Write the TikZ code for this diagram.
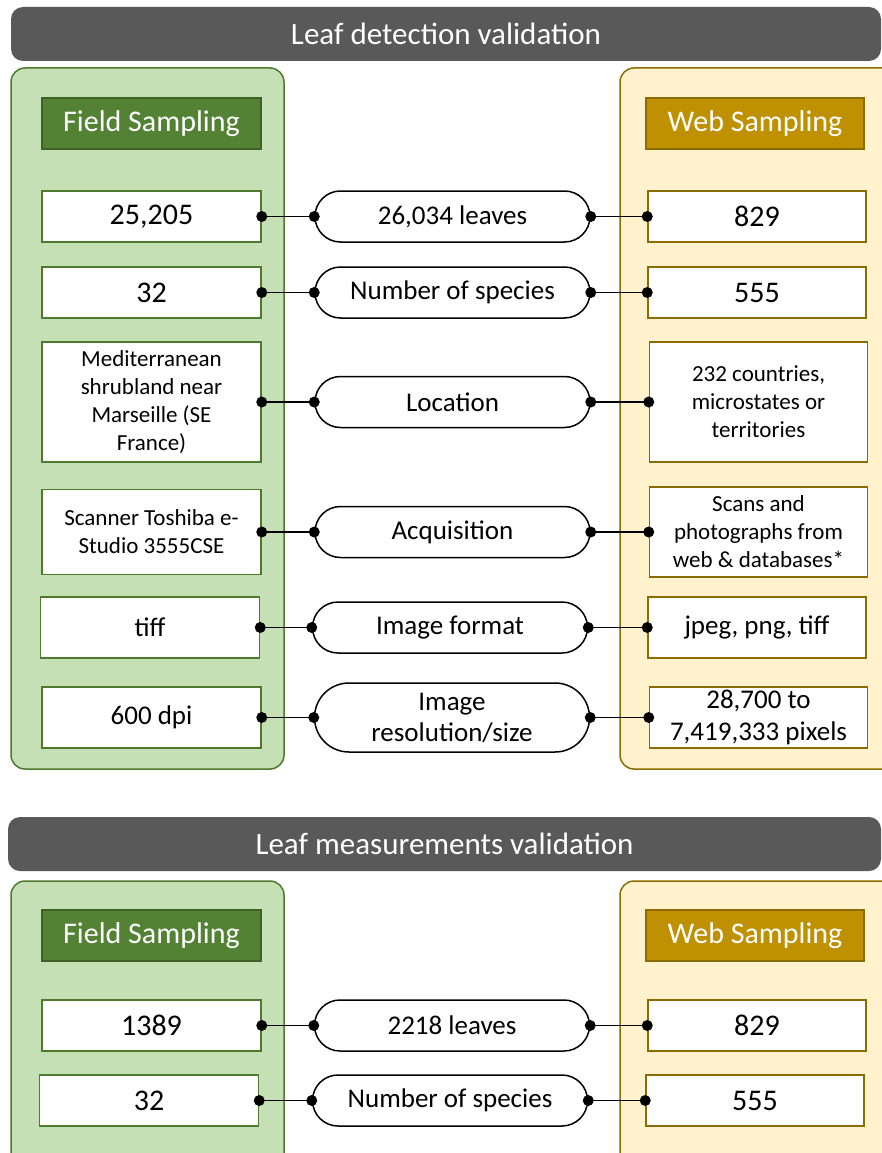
\documentclass[tikz,border=0pt]{standalone}
\usepackage{fontspec}
\setmainfont{Carlito}
\usetikzlibrary{shapes.misc}
\definecolor{bannergray}{HTML}{595959}
\definecolor{greenfill}{HTML}{C5E0B4}
\definecolor{greenhead}{HTML}{548235}
\definecolor{greenline}{HTML}{4E7A2E}
\definecolor{goldfill}{HTML}{FFF2CC}
\definecolor{goldhead}{HTML}{BF9000}
\definecolor{goldline}{HTML}{8C6B00}
\tikzset{
  banner/.style={fill=bannergray, rounded corners=12pt, text=white, inner sep=0pt,
    font=\fontsize{31}{36}\selectfont},
  fieldpanel/.style={fill=greenfill, draw=greenline, line width=1.5pt, rounded corners=14pt},
  webpanel/.style={fill=goldfill, draw=goldline, line width=1.5pt, rounded corners=14pt},
  fieldhead/.style={fill=greenhead, draw=greenline!80!black, line width=1.5pt, text=white,
    inner sep=0pt, minimum width=219pt, minimum height=51pt, font=\fontsize{30}{36}\selectfont},
  webhead/.style={fill=goldhead, draw=goldline, line width=1.5pt, text=white,
    inner sep=0pt, minimum width=218pt, minimum height=51pt, font=\fontsize{30}{36}\selectfont},
  fbox/.style={fill=white, draw=greenline, line width=1.5pt, inner sep=0pt, align=center,
    minimum width=219pt},
  wbox/.style={fill=white, draw=goldline, line width=1.5pt, inner sep=0pt, align=center,
    minimum width=218pt},
  pill/.style={rounded rectangle, fill=white, draw=black, line width=1.5pt, inner sep=0pt,
    align=center, minimum width=275pt, minimum height=51pt, font=\fontsize{27}{31}\selectfont},
  big/.style={font=\fontsize{30}{36}\selectfont},
  mid/.style={font=\fontsize{27}{32}\selectfont},
  small/.style={font=\fontsize{23}{28}\selectfont},
  conn/.style={draw=black, line width=1.5pt},
}
\newcommand{\linkrow}[3]{%
  \draw[conn] (#1.east) -- (#2.west);
  \draw[conn] (#2.east) -- (#3.west);
  \fill (#1.east) circle (5.5pt);
  \fill (#2.west) circle (5.5pt);
  \fill (#2.east) circle (5.5pt);
  \fill (#3.west) circle (5.5pt);
}
\begin{document}
\begin{tikzpicture}[x=1pt,y=-1pt]
\useasboundingbox (0,0) rectangle (882,1153);
\clip (0,0) rectangle (882,1153);

% ---------- Section 1 ----------
\node[banner, minimum width=870pt, minimum height=54pt] (b1) at (446,34) {Leaf detection validation};
\path[fieldpanel] (11,68) rectangle (284,769);
\path[webpanel] (620,68) rectangle (900,769);
\node[fieldhead] (fh1) at (151.5,123.5) {Field Sampling};
\node[webhead] (wh1) at (755,123.5) {Web Sampling};

\node[fbox, big, minimum height=51pt] (l1) at (151.5,216.5) {25,205};
\node[pill] (p1) at (452.5,216.5) {26,034 leaves};
\node[wbox, big, minimum height=51pt] (r1) at (757,216.5) {829};
\linkrow{l1}{p1}{r1}

\node[fbox, big, minimum height=51pt] (l2) at (151.5,292.5) {32};
\node[pill] (p2) at (452.5,292.5) {Number of species};
\node[wbox, big, minimum height=51pt] (r2) at (757,292.5) {555};
\linkrow{l2}{p2}{r2}

\node[fbox, small, minimum height=120pt] (l3) at (151.5,402) {Mediterranean\\shrubland near\\Marseille (SE\\France)};
\node[pill] (p3) at (452.5,402) {Location};
\node[wbox, small, minimum height=120pt] (r3) at (758.5,402) {232 countries,\\microstates or\\territories};
\linkrow{l3}{p3}{r3}

\node[fbox, small, minimum height=85pt] (l4) at (151.5,532) {Scanner Toshiba e-\\Studio 3555CSE};
\node[pill] (p4) at (452.5,532) {Acquisition};
\node[wbox, small, minimum height=90pt] (r4) at (758.5,532) {Scans and\\photographs from\\web \& databases*};
\linkrow{l4}{p4}{r4}

\node[fbox, mid, minimum height=61pt] (l5) at (150,627.5) {tiff};
\node[pill] (p5) at (450,627.5) {Image format};
\node[wbox, mid, minimum height=61pt] (r5) at (757,627.5) {jpeg, png, tiff};
\linkrow{l5}{p5}{r5}

\node[fbox, mid, minimum height=61pt] (l6) at (151.5,717.5) {600 dpi};
\node[pill, minimum height=69pt] (p6) at (452,717.5) {Image\\resolution/size};
\node[wbox, mid, minimum height=61pt] (r6) at (758.5,717.5) {28,700 to\\7,419,333 pixels};
\linkrow{l6}{p6}{r6}

% ---------- Section 2 ----------
\node[banner, minimum width=873pt, minimum height=54pt] (b2) at (444.5,844) {Leaf measurements validation};
\path[fieldpanel] (11,881) rectangle (284,1175);
\path[webpanel] (620,881) rectangle (900,1175);
\node[fieldhead] (fh2) at (151.5,935.5) {Field Sampling};
\node[webhead] (wh2) at (755,935.5) {Web Sampling};

\node[fbox, big, minimum height=51pt] (m1) at (151.5,1025.5) {1389};
\node[pill] (q1) at (452,1025.5) {2218 leaves};
\node[wbox, big, minimum height=51pt] (s1) at (757,1025.5) {829};
\linkrow{m1}{q1}{s1}

\node[fbox, big, minimum height=51pt] (m2) at (149,1100.5) {32};
\node[pill] (q2) at (450,1100.5) {Number of species};
\node[wbox, big, minimum height=51pt] (s2) at (755,1100.5) {555};
\linkrow{m2}{q2}{s2}
\end{tikzpicture}
\end{document}
